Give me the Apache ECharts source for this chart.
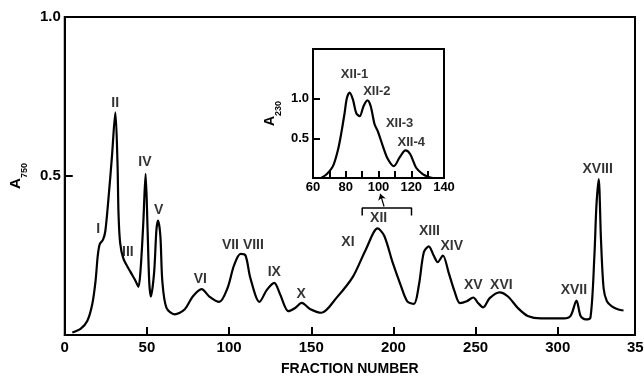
<!DOCTYPE html>
<html><head><meta charset="utf-8">
<script src="https://cdn.jsdelivr.net/npm/echarts@6.0.0/dist/echarts.min.js"></script>
<style>html,body{margin:0;padding:0;background:#fff}#c{width:644px;height:381px}</style>
</head><body><div id="c"></div>
<script>
// Main elution profile (A750 vs fraction number)
const fractionX = [4.6,9.6,13.7,16.7,18.7,20.1,21.3,23.3,24.7,26.7,28.7,30.8,32.1,32.7,33.7,35.7,39.8,42.8,44.8,46.2,47.8,49.2,50.4,51.4,52.4,54.4,55.8,56.8,58.2,59.4,61.9,66.9,72.9,77.9,83.3,88,94,99,103,107,110,113,118.5,123,127.5,131.1,136.1,140.2,144.2,149.2,156.2,165.2,175.3,183.3,190.4,194.4,199.4,204.4,208.4,212.5,215.5,218.5,221.5,224.5,226.9,230.1,233.5,237.2,240.5,244.6,248.6,251.6,254.6,258.6,264.6,269.7,275.7,281.7,289.8,303.8,307.8,311.4,313.9,316.9,319.9,322.3,323.5,324.9,326.3,327.9,329.9,332.9,336.9,340];
const a750 = [0.008,0.019,0.044,0.096,0.168,0.25,0.286,0.30,0.327,0.435,0.56,0.70,0.54,0.384,0.29,0.24,0.20,0.173,0.152,0.21,0.353,0.507,0.332,0.168,0.121,0.198,0.332,0.36,0.31,0.168,0.085,0.065,0.08,0.121,0.144,0.121,0.104,0.147,0.219,0.255,0.25,0.178,0.104,0.142,0.164,0.127,0.075,0.085,0.101,0.082,0.07,0.116,0.183,0.27,0.335,0.312,0.23,0.157,0.106,0.098,0.157,0.26,0.279,0.25,0.229,0.25,0.198,0.137,0.10,0.106,0.118,0.10,0.087,0.116,0.134,0.121,0.085,0.06,0.052,0.052,0.06,0.108,0.06,0.049,0.055,0.25,0.404,0.49,0.30,0.147,0.106,0.09,0.08,0.077];

// Inset: rechromatography of peak XII (A230)
const insetX = [65,68.5,72.2,75.3,77.3,79.3,80.7,82.4,84.4,86.4,88.5,90.9,93.2,95.2,97.6,99.6,102.7,105.7,109.4,112.9,116.5,119.4,123,127,131,133];
const a230 = [0,0.05,0.15,0.36,0.57,0.82,1.01,1.08,0.99,0.82,0.78,0.91,0.98,0.91,0.68,0.59,0.40,0.24,0.15,0.26,0.35,0.30,0.13,0.05,0.01,0];

// Peak labels (main)
const peakNames = ['I','II','III','IV','V','VI','VII VIII','IX','X','XI','XII','XIII','XIV','XV','XVI','XVII','XVIII'];
const peakLabelX = [20.3,30.7,38.4,48.8,57.2,82.5,108.4,127.5,143.8,172.3,191,221.9,235.5,248.6,265.7,309.8,324.3];
const peakLabelY = [0.332,0.728,0.26,0.543,0.394,0.176,0.283,0.197,0.13,0.291,0.368,0.327,0.281,0.157,0.157,0.142,0.523];

// Inset labels
const insetNames = ['XII-1','XII-2','XII-3','XII-4'];
const insetLabelX = [85.4,99,112.9,120];
const insetLabelY = [1.31,1.10,0.685,0.446];

// Bracket marking pooled fractions of peak XII
const bracketX = [181,181,211,211];
const bracketY = [0.376,0.399,0.399,0.376];
const arrowFrom = [194.3,0.404];
const arrowTo = [192,0.444];

// Tick values
const mainXLabels = [0,50,100,150,200,250,300];
const mainXTicks = [50,100,150,200,250,300];
const mainYTicks = [0.5,1.0];
const insetXLabels = [60,80,100,120,140];
const insetXTicks = [70,80,90,100,110,120,130];
const insetYTicks = [0.5,1.0];

const FONT = 'Liberation Sans, Arial, sans-serif';
const INK = '#000';
const chart = echarts.init(document.getElementById('c'), null, {renderer:'canvas'});

const axisLineStyle = {lineStyle:{color:INK,width:2}};
const opt = {
  animation:false,
  backgroundColor:'#fff',
  grid:[
    {left:59, top:17, right:9, bottom:40, show:true, borderColor:INK, borderWidth:2, containLabel:false},
    {left:313, top:49, right:200, bottom:203, show:true, borderColor:INK, borderWidth:2, containLabel:false}
  ],
  xAxis:[
    {type:'value', gridIndex:0, min:0, max:347, interval:50,
     axisLine:axisLineStyle, splitLine:{show:false},
     axisTick:{inside:true, length:8, lineStyle:{color:INK,width:2}, customValues:mainXTicks},
     axisLabel:{color:INK, fontFamily:FONT, fontSize:15, fontWeight:'bold', margin:5, customValues:mainXLabels},
     name:'FRACTION NUMBER', nameLocation:'middle', nameGap:27,
     nameTextStyle:{color:INK, fontFamily:FONT, fontSize:14, fontWeight:'bold'}},
    {type:'value', gridIndex:1, min:60, max:140, interval:20,
     axisLine:axisLineStyle, splitLine:{show:false},
     axisTick:{inside:true, length:7, lineStyle:{color:INK,width:2}, customValues:insetXTicks},
     axisLabel:{color:INK, fontFamily:FONT, fontSize:13, fontWeight:'bold', margin:3, customValues:insetXLabels}}
  ],
  yAxis:[
    {type:'value', gridIndex:0, min:0, max:1, interval:0.5,
     axisLine:axisLineStyle, splitLine:{show:false},
     axisTick:{inside:true, length:8, lineStyle:{color:INK,width:2}, customValues:mainYTicks},
     axisLabel:{color:INK, fontFamily:FONT, fontSize:15, fontWeight:'bold', margin:4, customValues:mainYTicks, formatter:v=>v.toFixed(1)},
     name:'{a|A}{s|750}', nameLocation:'middle', nameRotate:90, nameGap:33,
     nameTextStyle:{rich:{a:{color:INK,fontFamily:FONT,fontSize:15,fontWeight:'bold',verticalAlign:'bottom',lineHeight:18},
                          s:{color:INK,fontFamily:FONT,fontSize:9,fontWeight:'bold',verticalAlign:'bottom',lineHeight:18, padding:[0,0,-6,0]}}}},
    {type:'value', gridIndex:1, min:0, max:1.63, interval:0.5,
     axisLine:axisLineStyle, splitLine:{show:false},
     axisTick:{inside:true, length:7, lineStyle:{color:INK,width:2}, customValues:insetYTicks},
     axisLabel:{color:INK, fontFamily:FONT, fontSize:13, fontWeight:'bold', margin:4, customValues:insetYTicks, formatter:v=>v.toFixed(1)},
     name:'{a|A}{s|230}', nameLocation:'middle', nameRotate:90, nameGap:36,
     nameTextStyle:{rich:{a:{color:INK,fontFamily:FONT,fontSize:14,fontWeight:'bold',verticalAlign:'bottom',lineHeight:18},
                          s:{color:INK,fontFamily:FONT,fontSize:9,fontWeight:'bold',verticalAlign:'bottom',lineHeight:18, padding:[0,0,-6,0]}}}}
  ],
  series:[
    {type:'line', xAxisIndex:0, yAxisIndex:0, data:fractionX.map((x,i)=>[x,a750[i]]),
     smooth:0.3, showSymbol:false, symbol:'none', lineStyle:{color:INK,width:2.2}, silent:true,
     markLine:{silent:true, symbol:['none','arrow'], symbolSize:6, label:{show:false},
       lineStyle:{color:INK,width:1.2,type:'solid'},
       data:[[{coord:arrowFrom},{coord:arrowTo}]]}},
    {type:'line', xAxisIndex:0, yAxisIndex:0, data:bracketX.map((x,i)=>[x,bracketY[i]]),
     showSymbol:false, symbol:'none', lineStyle:{color:INK,width:1.5}, silent:true},
    {type:'line', xAxisIndex:1, yAxisIndex:1, data:insetX.map((x,i)=>[x,a230[i]]),
     smooth:0.3, showSymbol:false, symbol:'none', lineStyle:{color:INK,width:2.2}, silent:true},
    {type:'scatter', xAxisIndex:0, yAxisIndex:0, symbolSize:0, silent:true,
     data:peakNames.map((n,i)=>[peakLabelX[i],peakLabelY[i],n]),
     label:{show:true, position:'inside', formatter:p=>p.data[2], color:INK, fontFamily:FONT, fontSize:14, fontWeight:'bold'}},
    {type:'scatter', xAxisIndex:1, yAxisIndex:1, symbolSize:0, silent:true,
     data:insetNames.map((n,i)=>[insetLabelX[i],insetLabelY[i],n]),
     label:{show:true, position:'inside', formatter:p=>p.data[2], color:INK, fontFamily:FONT, fontSize:13, fontWeight:'bold'}}
  ]
};
chart.setOption(opt);
// "350" label lies just beyond the frame edge, as in the original
const px350 = chart.convertToPixel({xAxisIndex:0}, 350);
const py0 = chart.convertToPixel({yAxisIndex:0}, 0);
chart.setOption({graphic:[{type:'text', left:px350-13, top:py0+5,
  style:{text:'350', fill:INK, font:'bold 15px '+FONT}}]});
</script></body></html>
